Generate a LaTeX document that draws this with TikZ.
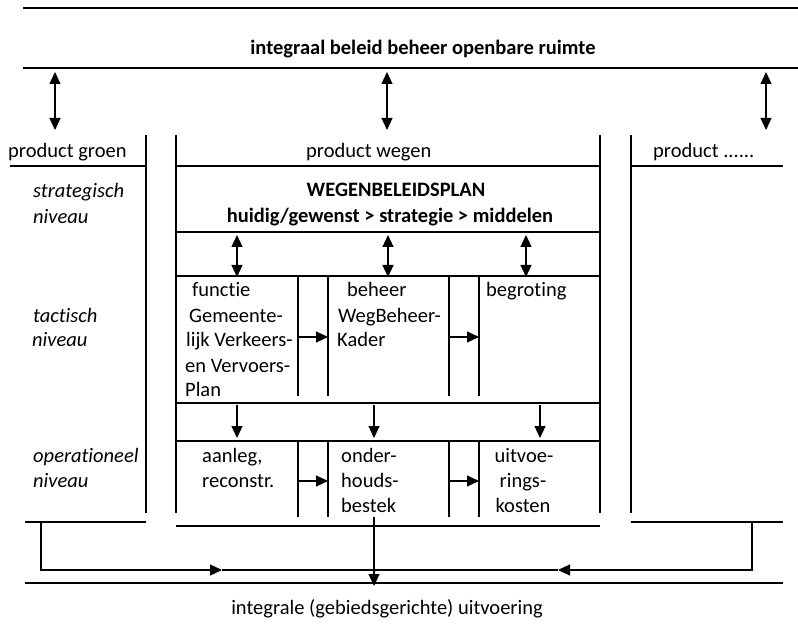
\documentclass[tikz,border=0pt]{standalone}
\usepackage{fontspec}
\setmainfont{Carlito}[Ligatures={NoCommon}]
\usetikzlibrary{arrows.meta}
\begin{document}
\begin{tikzpicture}[x=1pt,y=-1pt,
  ln/.style={line width=1.2pt,line cap=butt},
  arr/.style={ln,-{Triangle[length=12pt,width=11pt]}},
  darr/.style={ln,{Triangle[length=12pt,width=11pt]}-{Triangle[length=12pt,width=11pt]}},
  txt/.style={anchor=base west,inner sep=0pt,font=\fontsize{20.5}{25}\selectfont},
  ctxt/.style={anchor=base,inner sep=0pt,font=\fontsize{20.5}{25}\selectfont},
  lvl/.style={txt,font=\fontsize{20.5}{25}\selectfont\itshape},
  hd/.style={ctxt,font=\fontsize{20.5}{25}\selectfont\bfseries}]
\useasboundingbox (0,0) rectangle (798,636);

% top band
\draw[ln] (23,8) -- (798,8);
\draw[ln] (23,68) -- (798,68);
\node[hd] (title) at (423,55) {integraal beleid beheer openbare ruimte};

% coordinates for band arrows
\coordinate (a1t) at (55,72);  \coordinate (a1b) at (55,130);
\coordinate (a2t) at (387,72); \coordinate (a2b) at (387,130);
\coordinate (a3t) at (766,72); \coordinate (a3b) at (766,130);
\draw[darr] (a1t) -- (a1b);
\draw[darr] (a2t) -- (a2b);
\draw[darr] (a3t) -- (a3b);

% column verticals
\draw[ln] (146,135) -- (146,513);
\draw[ln] (176,135) -- (176,513);
\draw[ln] (600,135) -- (600,513);
\draw[ln] (631,135) -- (631,513);

% product headers
\node[txt] (pgroen) at (8,158) {product groen};
\node[txt] (pwegen) at (306,158) {product wegen};
\node[txt] (pdots) at (653,158) {product ......};
\draw[ln] (10,166) -- (146,166);
\draw[ln] (176,166) -- (600,166);
\draw[ln] (631,166) -- (783,166);

% level labels
\node[lvl] (s1) at (33,198) {strategisch};
\node[lvl] (s2) at (33,224) {niveau};
\node[lvl] (t1) at (33,323) {tactisch};
\node[lvl] (t2) at (32,347) {niveau};
\node[lvl] (o1) at (33,462) {operationeel};
\node[lvl] (o2) at (33,487) {niveau};

% strategic
\node[hd] (wbp) at (396,197) {WEGENBELEIDSPLAN};
\node[hd] (hgs) at (390,223) {huidig/gewenst > strategie > middelen};
\draw[ln] (176,232) -- (600,232);
\draw[ln] (176,276) -- (600,276);
\coordinate (b1t) at (237,235); \coordinate (b1b) at (237,277);
\coordinate (b2t) at (388,235); \coordinate (b2b) at (388,277);
\coordinate (b3t) at (526,235); \coordinate (b3b) at (526,277);
\draw[darr] (b1t) -- (b1b);
\draw[darr] (b2t) -- (b2b);
\draw[darr] (b3t) -- (b3b);

% tactical
\foreach \x in {298,328,449,479} \draw[ln] (\x,276) -- (\x,396);
\coordinate (c1s) at (298,337); \coordinate (c1e) at (328,337);
\coordinate (c2s) at (449,337); \coordinate (c2e) at (479,337);
\draw[arr] (c1s) -- (c1e);
\draw[arr] (c2s) -- (c2e);
\node[txt] (functie) at (192,297) {functie};
\node[txt] (gem1) at (189,323) {Gemeente-};
\node[txt] (gem2) at (186,347) {lijk Verkeers-};
\node[txt] (gem3) at (185,372) {en Vervoers-};
\node[txt] (gem4) at (185,396) {Plan};
\node[txt] (beheer) at (347,297) {beheer};
\node[txt] (wbk1) at (338,323) {WegBeheer-};
\node[txt] (wbk2) at (337,347) {Kader};
\node[txt] (begr) at (486,297) {begroting};

% between tactical and operational
\draw[ln] (176,403) -- (600,403);
\draw[ln] (176,441) -- (600,441);
\coordinate (d1t) at (237,405); \coordinate (d1b) at (237,438);
\coordinate (d2t) at (374,405); \coordinate (d2b) at (374,438);
\coordinate (d3t) at (540,405); \coordinate (d3b) at (540,438);
\draw[arr] (d1t) -- (d1b);
\draw[arr] (d2t) -- (d2b);
\draw[arr] (d3t) -- (d3b);

% operational
\foreach \x in {298,328,449,479} \draw[ln] (\x,441) -- (\x,517);
\coordinate (e1s) at (298,481); \coordinate (e1e) at (328,481);
\coordinate (e2s) at (449,481); \coordinate (e2e) at (479,481);
\draw[arr] (e1s) -- (e1e);
\draw[arr] (e2s) -- (e2e);
\node[txt] (aan1) at (202,462) {aanleg,};
\node[txt] (aan2) at (202,487) {reconstr.};
\node[txt] (ond1) at (341,462) {onder-};
\node[txt] (ond2) at (341,487) {houds-};
\node[txt] (ond3) at (341,512) {bestek};
\node[ctxt] (uit1) at (524,462) {uitvoe-};
\node[ctxt] (uit2) at (523,487) {rings-};
\node[ctxt] (uit3) at (523,512) {kosten};

% bottom
\draw[ln] (25,522) -- (146,522);
\draw[ln] (176,526) -- (600,526);
\draw[ln] (631,522) -- (783,522);
\coordinate (lstart) at (41,522);
\coordinate (ltip) at (222,570);
\coordinate (mid) at (374,570);
\coordinate (rstart) at (752,522);
\coordinate (rtip) at (558,570);
\draw[ln,-{Triangle[length=12pt,width=11pt]}] (lstart) |- (ltip);
\draw[ln] (ltip) -- (mid);
\draw[ln,-{Triangle[length=12pt,width=11pt]}] (rstart) |- (rtip);
\draw[ln] (rtip) -- (mid);
\draw[ln] (25,583) -- (783,583);
\coordinate (vtop) at (374,517);
\coordinate (vbot) at (374,586);
\draw[arr] (vtop) -- (vbot);
\node[ctxt] (uitv) at (387,614) {integrale (gebiedsgerichte) uitvoering};
\end{tikzpicture}
\end{document}
